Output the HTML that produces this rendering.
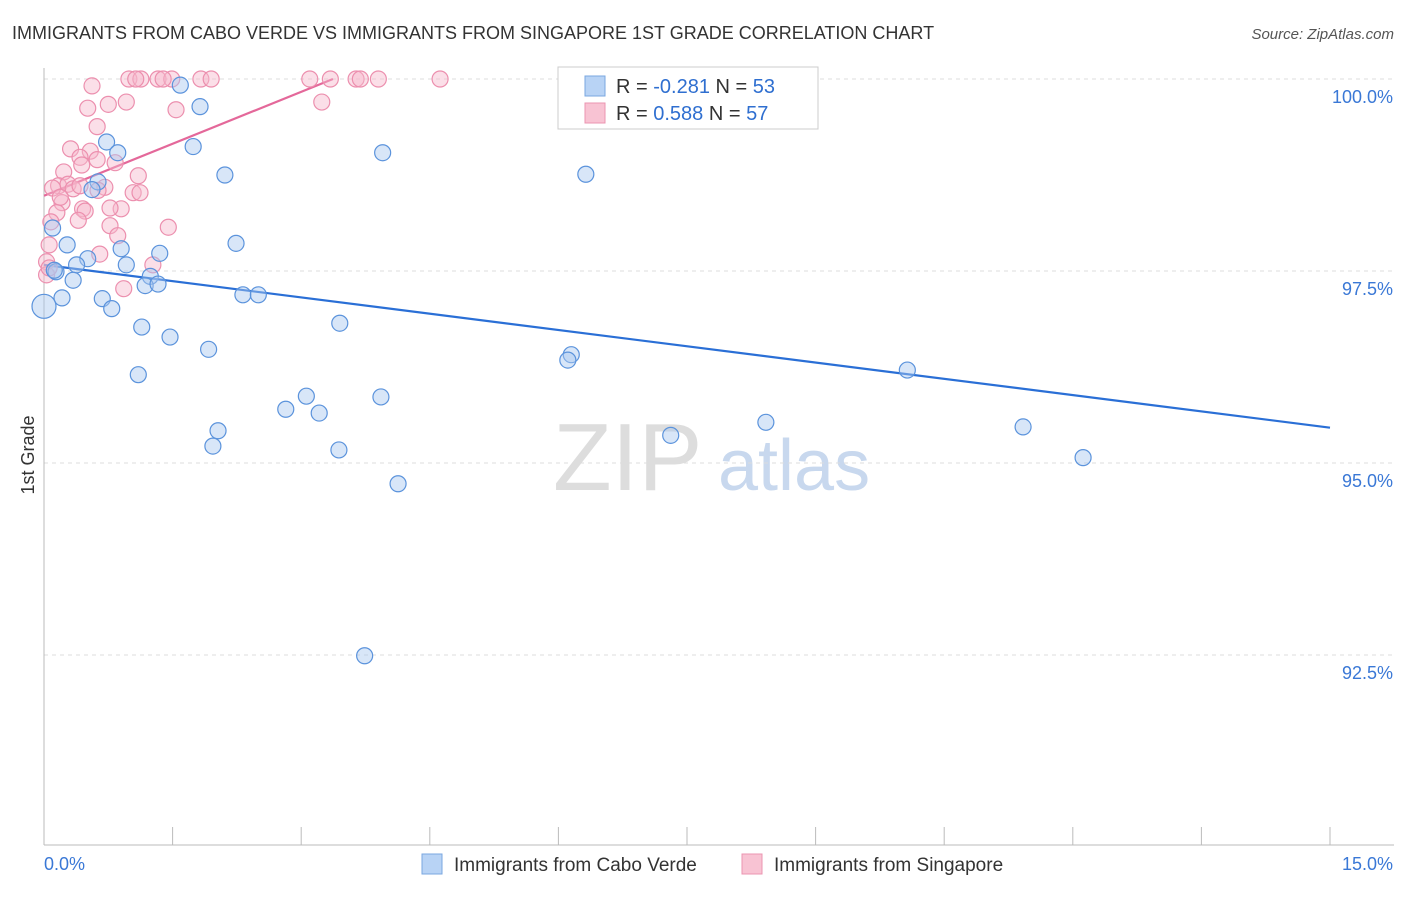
<!DOCTYPE html>
<html><head><meta charset="utf-8"><style>
body{margin:0;background:#fff;font-family:"Liberation Sans",sans-serif}
svg text{font-family:"Liberation Sans",sans-serif}
</style></head><body>
<svg id="chart" width="1406" height="892" xmlns="http://www.w3.org/2000/svg">
<text x="12" y="39" font-size="18" fill="#333">IMMIGRANTS FROM CABO VERDE VS IMMIGRANTS FROM SINGAPORE 1ST GRADE CORRELATION CHART</text>
<text x="1394" y="39" font-size="15" fill="#555" text-anchor="end" font-style="italic">Source: ZipAtlas.com</text>
<text x="553" y="490" font-size="96" fill="#ddd" font-family="Liberation Serif">ZIP</text>
<text x="718" y="490" font-size="72" fill="#c8d8ee">atlas</text>
<text transform="translate(34,455) rotate(-90)" font-size="18" fill="#333" text-anchor="middle">1st Grade</text>
<g id="grid"></g><g id="axes"></g><g id="trend"></g><g id="pts"></g>
<g>
<rect x="558" y="67" width="260" height="62" fill="#fff" stroke="#ccc"/>
<rect x="585" y="76" width="20" height="20" fill="#b8d3f5" stroke="#7aa7e0"/>
<rect x="585" y="103" width="20" height="20" fill="#f8c3d3" stroke="#eb94b0"/>
<text x="616" y="93" font-size="20" fill="#333">R = <tspan fill="#2f6fd0">-0.281</tspan>   N = <tspan fill="#2f6fd0">53</tspan></text>
<text x="616" y="120" font-size="20" fill="#333">R =  <tspan fill="#2f6fd0">0.588</tspan>   N = <tspan fill="#2f6fd0">57</tspan></text>
</g>
<g>
<rect x="422" y="854" width="20" height="20" fill="#b8d3f5" stroke="#7aa7e0"/>
<text x="454" y="871" font-size="19" fill="#333">Immigrants from Cabo Verde</text>
<rect x="742" y="854" width="20" height="20" fill="#f8c3d3" stroke="#eb94b0"/>
<text x="774" y="871" font-size="19" fill="#333">Immigrants from Singapore</text>
</g>
</svg>
<script>
const blueX=[1.59,1.82,1.74,2.11,0.73,0.86,0.63,0.56,0.10,0.27,2.24,0.90,1.35,0.51,0.38,0.96,0.14,0.34,1.24,1.18,1.33,0.21,0.68,0.79,2.32,2.50,0,1.14,1.47,3.45,1.92,1.10,6.15,6.11,10.07,3.06,2.82,3.21,3.93,2.03,1.97,3.44,7.31,8.42,11.42,12.12,4.13,3.74,3.95,6.32,7.51,8.62,0.12];
const blueY=[99.92,99.64,99.12,98.75,99.18,99.04,98.66,98.56,98.06,97.84,97.86,97.79,97.73,97.66,97.58,97.58,97.49,97.38,97.43,97.31,97.33,97.15,97.14,97.01,97.19,97.19,97.04,96.77,96.64,96.82,96.48,96.15,96.41,96.34,96.21,95.87,95.70,95.65,95.86,95.42,95.22,95.17,95.36,95.53,95.47,95.07,94.73,92.49,99.04,98.76,99.99,99.99,97.51];
const pinkX=[0.56,0.99,1.13,1.33,1.49,1.83,1.95,3.10,3.34,3.64,3.69,3.90,4.62,1.07,1.39,0.96,0.75,0.51,1.54,3.24,0.62,0.31,0.54,0.42,0.83,0.44,0.62,0.23,1.10,0.17,0.28,0.10,0.71,0.63,0.34,1.04,0.21,0.45,0.90,0.15,0.48,0.40,1.45,0.77,0.08,0.86,0.65,0.06,1.27,0.03,0.93,0.03,0.06,0.42,0.19,0.77,1.12];
const pinkY=[99.91,100,100,100,100,100,100,100,100,100,100,100,100,100,100,99.70,99.67,99.62,99.60,99.70,99.38,99.09,99.06,98.98,98.91,98.88,98.95,98.79,98.74,98.61,98.63,98.58,98.59,98.55,98.57,98.52,98.39,98.31,98.31,98.26,98.28,98.16,98.07,98.09,98.14,97.96,97.72,97.84,97.58,97.62,97.27,97.45,97.54,98.61,98.46,98.32,98.52];
const blueTrend=[[0,97.58],[15,95.46]];
const pinkTrend=[[0,98.48],[3.37,100]];
const yTicks=[100,97.5,95,92.5];
const yTickLabels=["100.0%","97.5%","95.0%","92.5%"];
const xTicks=[0,1.5,3,4.5,6,7.5,9,10.5,12,13.5,15];
const NS="http://www.w3.org/2000/svg";
const sx=v=>44+v*(1286/15), sy=v=>79+(100-v)*76.8;
function mk(parent,tag,attrs){const e=document.createElementNS(NS,tag);for(const k in attrs)e.setAttribute(k,attrs[k]);document.getElementById(parent).appendChild(e);return e;}
yTicks.forEach((t,i)=>{
 const l=mk('grid','line',{x1:44,x2:1394,y1:sy(t),y2:sy(t),stroke:'#ddd','stroke-dasharray':'4,4'});
 
 
 const tx=mk('axes','text',{x:1393,y:sy(t)+24,'font-size':18,fill:'#3a78d6','text-anchor':'end'});
 tx.textContent=yTickLabels[i];
 
 
});
const ax=mk('axes','line',{x1:44,x2:44,y1:68,y2:845,stroke:'#bbb'});


const bx=mk('axes','line',{x1:44,x2:1394,y1:845,y2:845,stroke:'#bbb'});


xTicks.forEach(t=>{
 const l=mk('axes','line',{x1:sx(t),x2:sx(t),y1:827,y2:845,stroke:'#bbb'});
 
 
});
const x0=mk('axes','text',{x:44,y:870,'font-size':18,fill:'#3a78d6'});x0.textContent=xTicks[0].toFixed(1)+'%';


const x1=mk('axes','text',{x:1393,y:870,'font-size':18,fill:'#3a78d6','text-anchor':'end'});x1.textContent=xTicks[xTicks.length-1].toFixed(1)+'%';


function pts(X,Y,fill,stroke,name){X.forEach((x,i)=>{
 const c=mk('pts','circle',{cx:sx(x),cy:sy(Y[i]),r:(x===0?12:8),fill:fill,'fill-opacity':0.45,stroke:stroke,'stroke-width':1.2});
 
 
});}
pts(pinkX,pinkY,'#f7b9cc','#ec8fae','singapore-point');
pts(blueX,blueY,'#a9c8f0','#5b93dc','cabo-verde-point');
const bt=mk('trend','line',{x1:sx(blueTrend[0][0]),y1:sy(blueTrend[0][1]),x2:sx(blueTrend[1][0]),y2:sy(blueTrend[1][1]),stroke:'#2a6fd6','stroke-width':2.2});


const pt=mk('trend','line',{x1:sx(pinkTrend[0][0]),y1:sy(pinkTrend[0][1]),x2:sx(pinkTrend[1][0]),y2:sy(pinkTrend[1][1]),stroke:'#e4689a','stroke-width':2.2});


</script>
</body></html>
